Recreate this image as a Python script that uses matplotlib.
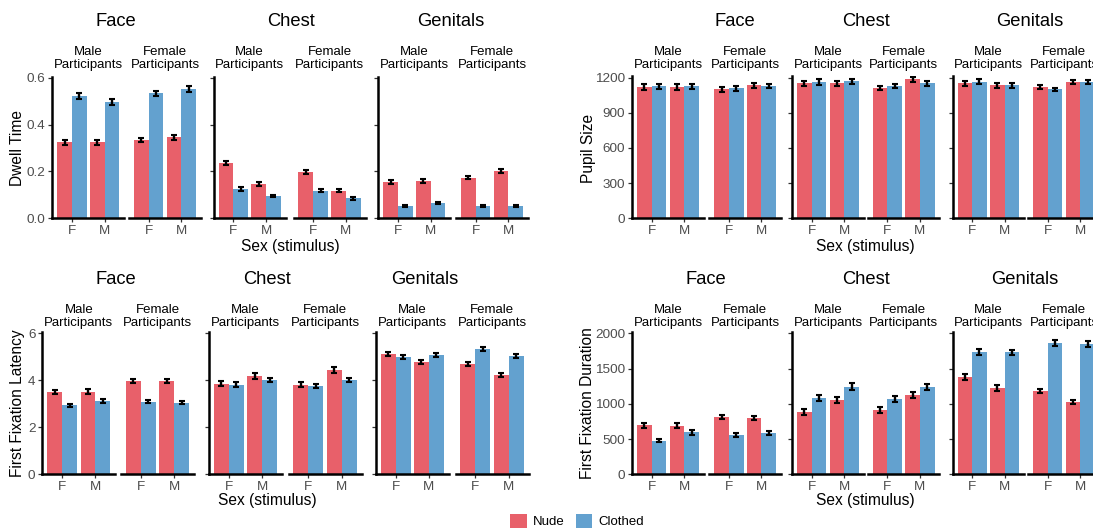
import matplotlib
matplotlib.use('Agg')
import matplotlib.pyplot as plt
from matplotlib.patches import Patch

plt.rcParams['font.family'] = ['Liberation Sans', 'DejaVu Sans']

W, H, DPI = 1093, 529, 100

regions = ['Face', 'Chest', 'Genitals']
participants = ['Male\nParticipants', 'Female\nParticipants']
stim_sex = ['F', 'M']
conditions = ['Nude', 'Clothed']
colors = ['#E8606A', '#63A1CF']

# values per region, ordered: [Male part. F, Male part. M, Female part. F, Female part. M]
dwell_nude = [[0.324, 0.324, 0.334, 0.345], [0.237, 0.146, 0.198, 0.117], [0.155, 0.159, 0.173, 0.202]]
dwell_clothed = [[0.522, 0.496, 0.533, 0.552], [0.125, 0.095, 0.117, 0.085], [0.053, 0.065, 0.053, 0.053]]
dwell_nude_se = [[0.011, 0.011, 0.010, 0.010], [0.008, 0.007, 0.007, 0.006], [0.007, 0.008, 0.007, 0.008]]
dwell_clothed_se = [[0.013, 0.013, 0.011, 0.012], [0.007, 0.006, 0.006, 0.005], [0.004, 0.005, 0.004, 0.004]]

pupil_nude = [[1120, 1120, 1100, 1134], [1151, 1151, 1111, 1186], [1151, 1134, 1120, 1163]]
pupil_clothed = [[1126, 1126, 1108, 1126], [1163, 1169, 1129, 1151], [1166, 1134, 1100, 1163]]
pupil_nude_se = [[22, 22, 20, 20], [22, 22, 20, 20], [22, 22, 18, 18]]
pupil_clothed_se = [[20, 22, 18, 18], [22, 22, 18, 20], [22, 22, 16, 18]]

latency_nude = [[3.50, 3.52, 3.97, 3.97], [3.86, 4.18, 3.82, 4.44], [5.12, 4.78, 4.71, 4.23]]
latency_clothed = [[2.94, 3.12, 3.09, 3.04], [3.82, 4.01, 3.76, 4.01], [4.99, 5.08, 5.33, 5.05]]
latency_nude_se = [[0.09, 0.09, 0.08, 0.08], [0.10, 0.11, 0.09, 0.11], [0.10, 0.10, 0.09, 0.07]]
latency_clothed_se = [[0.06, 0.08, 0.06, 0.06], [0.10, 0.09, 0.08, 0.08], [0.09, 0.09, 0.08, 0.08]]

duration_nude = [[695, 686, 813, 799], [884, 1054, 913, 1125], [1376, 1220, 1182, 1026]]
duration_clothed = [[478, 596, 558, 586], [1083, 1239, 1069, 1239], [1735, 1730, 1863, 1844]]
duration_nude_se = [[35, 35, 30, 30], [40, 45, 40, 45], [40, 40, 35, 30]]
duration_clothed_se = [[25, 35, 25, 30], [45, 50, 40, 45], [40, 40, 40, 40]]

ylabels = ['Dwell Time', 'Pupil Size', 'First Fixation Latency', 'First Fixation Duration']
yticks_list = [[0.0, 0.2, 0.4, 0.6], [0, 300, 600, 900, 1200], [0, 2, 4, 6], [0, 500, 1000, 1500, 2000]]
ytick_labels_list = [['0.0', '0.2', '0.4', '0.6'], ['0', '300', '600', '900', '1200'],
                     ['0', '2', '4', '6'], ['0', '500', '1000', '1500', '2000']]

measures = [
    (dwell_nude, dwell_clothed, dwell_nude_se, dwell_clothed_se),
    (pupil_nude, pupil_clothed, pupil_nude_se, pupil_clothed_se),
    (latency_nude, latency_clothed, latency_nude_se, latency_clothed_se),
    (duration_nude, duration_clothed, duration_nude_se, duration_clothed_se),
]

# layout (pixels)
layouts = [
    dict(y0=218.3, ytp=77.7, top=0.605, centers=[88.3, 165.0, 249.7, 329.5, 414.3, 492.1], w=72,
         titles=[116, 291, 451], ty=22, ylab=(17.5, 148), xlab=(290.7, 246.5)),
    dict(y0=218.3, ytp=77.7, top=1212, centers=[668.0, 745.2, 828.0, 903.7, 988.4, 1064.0], w=71.5,
         titles=[735, 866, 1030], ty=22, ylab=(588, 148), xlab=(865.7, 246.5)),
    dict(y0=474.3, ytp=333.3, top=6.05, centers=[78.9, 157.5, 245.5, 325.0, 412.3, 492.0], w=73,
         titles=[116, 267, 425], ty=280, ylab=(17.5, 403), xlab=(267, 501)),
    dict(y0=474.3, ytp=333.3, top=2015, centers=[668.0, 745.2, 828.0, 903.7, 988.4, 1064.0], w=71.5,
         titles=[706, 866, 1025], ty=280, ylab=(588, 403), xlab=(865.7, 501)),
]

fig = plt.figure(figsize=(W / DPI, H / DPI), dpi=DPI)
TICKC = '#4D4D4D'

for mi, (meas, lay) in enumerate(zip(measures, layouts)):
    nude, clothed, nude_se, clothed_se = meas
    yt = yticks_list[mi]
    ppu = (lay['y0'] - lay['ytp']) / yt[-1]
    top_px = lay['y0'] - lay['top'] * ppu
    for ri in range(3):
        for pi in range(2):
            fi = ri * 2 + pi
            c = lay['centers'][fi]
            x0 = c - lay['w'] / 2
            ax = fig.add_axes([x0 / W, 1 - lay['y0'] / H, lay['w'] / W, (lay['y0'] - top_px) / H])
            xs = [1, 2]
            nv = nude[ri][pi * 2:pi * 2 + 2]
            cv = clothed[ri][pi * 2:pi * 2 + 2]
            ns = nude_se[ri][pi * 2:pi * 2 + 2]
            cs = clothed_se[ri][pi * 2:pi * 2 + 2]
            xn = [x - 0.225 for x in xs]
            xc = [x + 0.225 for x in xs]
            ax.bar(xn, nv, width=0.45, color=colors[0], linewidth=0)
            ax.bar(xc, cv, width=0.45, color=colors[1], linewidth=0)
            ax.errorbar(xn, nv, yerr=ns, fmt='none', ecolor='black', elinewidth=1.7, capsize=2.5, capthick=1.5)
            ax.errorbar(xc, cv, yerr=cs, fmt='none', ecolor='black', elinewidth=1.7, capsize=2.5, capthick=1.5)
            ax.set_xlim(0.4, 2.6)
            ax.set_ylim(0, lay['top'])
            ax.set_xticks(xs)
            ax.set_xticklabels(stim_sex)
            ax.tick_params(axis='x', length=3, width=0.9, color='#333333', pad=2,
                           labelsize=9.7, labelcolor=TICKC)
            for s in ['top', 'right']:
                ax.spines[s].set_visible(False)
            ax.spines['bottom'].set_linewidth(1.8)
            ax.spines['bottom'].set_color('black')
            if pi == 0:
                ax.spines['left'].set_linewidth(1.8)
                ax.spines['left'].set_color('black')
                ax.set_yticks(yt)
                ax.tick_params(axis='y', length=3, width=0.9, color='#333333', pad=2,
                               labelsize=9.7, labelcolor=TICKC)
                if ri == 0:
                    ax.set_yticklabels(ytick_labels_list[mi])
                else:
                    ax.set_yticklabels([])
            else:
                ax.spines['left'].set_visible(False)
                ax.set_yticks([])
            ax.patch.set_alpha(0)
            # strip label
            fig.text(c / W, 1 - (lay['ty'] + 36.5) / H, participants[pi], ha='center', va='center',
                     fontsize=9.5, linespacing=1.12)
        fig.text(lay['titles'][ri] / W, 1 - lay['ty'] / H, regions[ri], ha='center', va='center',
                 fontsize=13.2)
    fig.text(lay['ylab'][0] / W, 1 - lay['ylab'][1] / H, ylabels[mi], rotation=90,
             ha='center', va='center', fontsize=11.2)
    fig.text(lay['xlab'][0] / W, 1 - lay['xlab'][1] / H, 'Sex (stimulus)', ha='center', va='center',
             fontsize=11.2)

handles = [Patch(facecolor=colors[0], edgecolor='none'), Patch(facecolor=colors[1], edgecolor='none')]
fig.legend(handles, conditions, ncol=2, loc='center', bbox_to_anchor=(577 / W, 1 - 521 / H),
           frameon=False, fontsize=9.5, handlelength=1.25, handleheight=1.25,
           handletextpad=0.45, columnspacing=0.85, borderpad=0, borderaxespad=0)

fig.savefig('out.png', dpi=DPI)
